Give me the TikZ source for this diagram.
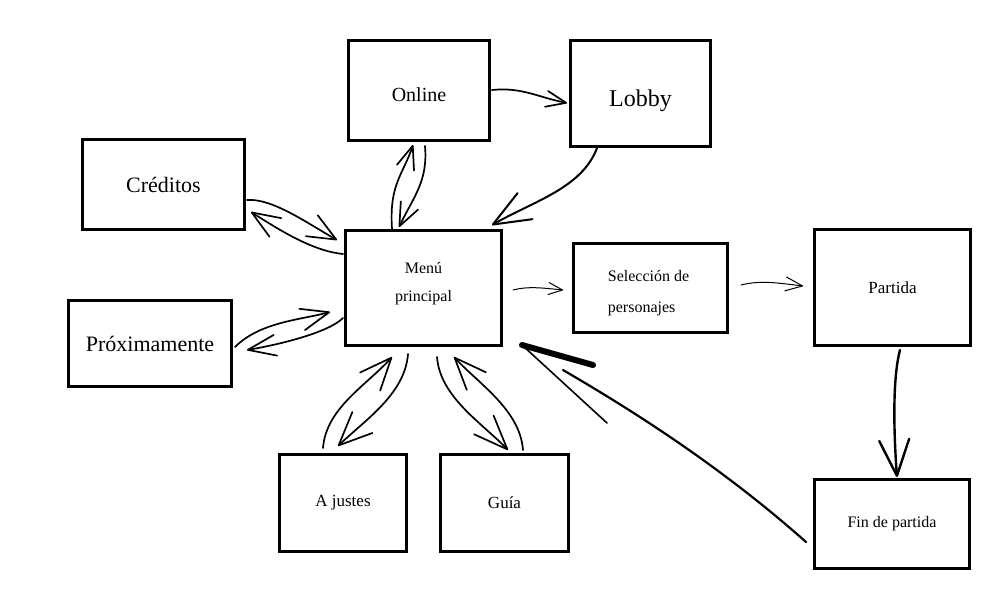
\documentclass[tikz,border=0pt]{standalone}
\usepackage{fontspec}
\setmainfont{Liberation Serif}
\usetikzlibrary{arrows.meta,calc}
\tikzset{
  box/.style={draw, line width=3pt, inner sep=0pt, align=center},
  conn/.style={line width=1.7pt, line cap=round}
}
\begin{document}
\begin{tikzpicture}[x=1pt,y=-1pt]
\useasboundingbox[fill=white] (0,0) rectangle (1000,600);
% boxes
\node[box, font=\fontsize{20}{24}\selectfont, text height=21pt, text depth=0pt, minimum width=141pt, minimum height=100pt] (online) at (419,90.5) {Online};
\node[box, font=\fontsize{24}{28}\selectfont, text height=30pt, text depth=5pt, minimum width=140pt, minimum height=106pt] (lobby) at (640.5,93.5) {Lobby};
\node[box, font=\fontsize{22}{26}\selectfont, minimum width=162pt, minimum height=90pt] (creditos) at (163.5,184.5) {Créditos};
\node[box, minimum width=156pt, minimum height=115pt] (menu) at (423.5,288) {};
\node[font=\fontsize{16}{28}\selectfont, align=center, inner sep=0pt] (menutxt) at ($(menu)+(0,-4)$) {Menú\\principal};
\node[box, minimum width=154pt, minimum height=89pt] (seleccion) at (650.5,288) {};
\node[font=\fontsize{16}{31}\selectfont, align=left, inner sep=0pt] (selecciontxt) at ($(seleccion)+(-2,5)$) {Selección de\\personajes};
\node[box, font=\fontsize{17}{20}\selectfont, minimum width=156pt, minimum height=116pt] (partida) at (892.5,287.5) {Partida};
\node[box, font=\fontsize{22}{26}\selectfont, minimum width=163pt, minimum height=86pt] (proxim) at (150,343.5) {Próximamente};
\node[box, font=\fontsize{17}{20}\selectfont, minimum width=127pt, minimum height=97pt] (ajustes) at (343,503) {A justes};
\node[box, font=\fontsize{17}{20}\selectfont, minimum width=128pt, minimum height=97pt] (guia) at (504.5,503) {Guía};
\node[box, font=\fontsize{16}{20}\selectfont, minimum width=155pt, minimum height=89pt] (fin) at (892,524) {Fin de partida};
% connectors
\draw[conn,-{Straight Barb[length=20pt,width=16pt,round]}] ($(online)+(73,-0.5)$) .. controls +(30,-3) and +(-30,-6) .. ($(lobby)+(-73.5,9.5)$);
\draw[conn,line width=2pt,-{Straight Barb[length=37pt,width=30pt,round]}] ($(lobby)+(-43.5,54.5)$) .. controls +(-15,40) and +(42,-24) .. ($(menu)+(68.5,-63)$);
\draw[conn,-{Straight Barb[length=23pt,width=18pt,round]}] ($(menu)+(-31.5,-59)$) .. controls +(-3,-45) and +(-10,30) .. ($(online)+(-6,54.5)$);
\draw[conn,-{Straight Barb[length=23pt,width=19pt,round]}] ($(online)+(6,55.5)$) .. controls +(3,35) and +(15,-31) .. ($(menu)+(-24.5,-61)$);
\draw[conn,-{Straight Barb[length=28pt,width=24pt,round]}] ($(creditos)+(83.5,15.5)$) .. controls +(25,-2) and +(-30,-17) .. ($(menu)+(-86.5,-48)$);
\draw[conn,-{Straight Barb[length=28pt,width=22pt,round]}] ($(menu)+(-80.5,-34)$) .. controls +(-30,-3) and +(30,19) .. ($(creditos)+(87.5,27.5)$);
\draw[conn,-{Straight Barb[length=28pt,width=22pt,round]}] ($(proxim)+(85,3.5)$) .. controls +(25,-25) and +(-30,8) .. ($(menu)+(-93.5,24)$);
\draw[conn,-{Straight Barb[length=28pt,width=21pt,round]}] ($(menu)+(-80.5,30)$) .. controls +(-15,15) and +(30,-5) .. ($(proxim)+(97,6.5)$);
\draw[conn,-{Straight Barb[length=32pt,width=27pt,round]}] ($(ajustes)+(-20,-55)$) .. controls +(3,-40) and +(-25,28) .. ($(menu)+(-31.5,69)$);
\draw[conn,-{Straight Barb[length=33pt,width=29pt,round]}] ($(menu)+(-15.5,66)$) .. controls +(-3,40) and +(27,-26) .. ($(ajustes)+(-5,-57)$);
\draw[conn,-{Straight Barb[length=34pt,width=27pt,round]}] ($(menu)+(13.5,69)$) .. controls +(3,40) and +(-26,-27) .. ($(guia)+(3.5,-53)$);
\draw[conn,-{Straight Barb[length=32pt,width=26pt,round]}] ($(guia)+(18.5,-53)$) .. controls +(-3,-40) and +(25,27) .. ($(menu)+(30.5,69)$);
\draw[conn,line width=1pt,-{Straight Barb[length=14pt,width=12pt,round]}] ($(menu)+(89.5,2)$) .. controls +(15,-4) and +(-20,-2) .. ($(seleccion)+(-87.5,2)$);
\draw[conn,line width=1pt,-{Straight Barb[length=17pt,width=14pt,round]}] ($(seleccion)+(90.5,-3)$) .. controls +(20,-5) and +(-25,-3) .. ($(partida)+(-89.5,-1.5)$);
\draw[conn,line width=2.4pt,-{Straight Barb[length=36pt,width=30pt,round]}] ($(partida)+(7.5,62.5)$) .. controls +(-8,30) and +(-3,-40) .. ($(fin)+(5,-47)$);
\coordinate (tipm) at ($(menu)+(98.5,57)$);
\draw[conn,line width=2.2pt] ($(fin)+(-86,18)$) .. controls +(-90,-80) and +(60,35) .. ($(menu)+(139.5,82)$);
\draw[line width=6pt,line cap=round] (tipm) -- +(71,20);
\draw[line width=1.6pt,line cap=round] (tipm) -- +(85,78);
\end{tikzpicture}
\end{document}
